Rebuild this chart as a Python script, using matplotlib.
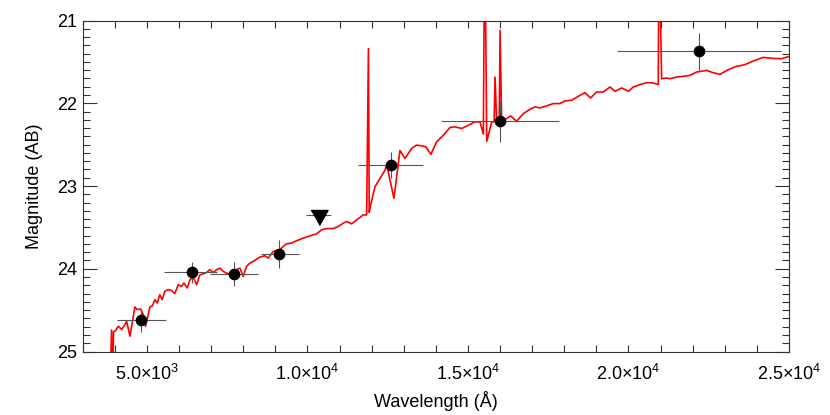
import matplotlib
matplotlib.use('Agg')
import matplotlib.pyplot as plt
from matplotlib.ticker import MultipleLocator, FixedLocator, FixedFormatter
import numpy as np

plt.rcParams['font.family'] = ['Liberation Sans', 'DejaVu Sans']
plt.rcParams['mathtext.fontset'] = 'custom'
plt.rcParams['mathtext.rm'] = 'Liberation Sans'
plt.rcParams['mathtext.it'] = 'Liberation Sans'

# model spectrum
spec_wave = [3850, 3900, 3930, 3960, 4005, 4110, 4213, 4316, 4368, 4472, 4575, 4627,
             4699, 4803, 4886, 4958, 5093, 5175, 5248, 5320, 5403, 5475, 5558, 5662,
             5765, 5869, 5975, 6080, 6152, 6256, 6340, 6443, 6547, 6650, 6755, 6858,
             6962, 7065, 7170, 7273, 7377, 7480, 7585, 7688, 7792, 7895, 8000, 8103,
             8207, 8310, 8415, 8518, 8675, 8778, 8934, 9141, 9245, 9350, 9505, 9660,
             9868, 10077, 10285, 10440, 10597, 10804, 10960, 11116, 11220, 11376, 11532, 11740,
             11845, 11900, 11925, 11975, 12105, 12262, 12418, 12470, 12695, 12882, 13038, 13245,
             13400, 13555, 13690, 13845, 14025, 14232, 14440, 14597, 14805, 15012, 15220, 15375,
             15480, 15510, 15540, 15585, 15740, 15815, 15843, 15895, 15975, 16000, 16050, 16205,
             16330, 16516, 16724, 16932, 17088, 17243, 17450, 17658, 17865, 18022, 18229, 18437,
             18644, 18820, 19008, 19216, 19424, 19580, 19787, 19995, 20150, 20357, 20565, 20772,
             20927, 20945, 20975, 21033, 21188, 21292, 21500, 21707, 21914, 22121, 22432, 22640,
             22847, 23106, 23366, 23624, 23884, 24196, 24507, 24766, 25005]
spec_mag = [25.4, 24.74, 25.4, 24.76, 24.755, 24.695, 24.735, 24.675, 24.635, 24.815, 24.575, 24.462,
            24.494, 24.486, 24.555, 24.695, 24.462, 24.446, 24.374, 24.414, 24.314, 24.374, 24.273, 24.253,
            24.261, 24.301, 24.193, 24.213, 24.173, 24.233, 24.133, 24.101, 24.193, 24.073, 24.061, 24.045,
            24.012, 24.045, 24.012, 23.992, 24.032, 24.053, 24.061, 24.032, 24.012, 23.992, 24.093, 23.972,
            23.932, 23.912, 23.884, 23.86, 23.843, 23.871, 23.791, 23.771, 23.731, 23.698, 23.690, 23.662,
            23.630, 23.602, 23.578, 23.530, 23.514, 23.514, 23.490, 23.449, 23.429, 23.457, 23.409, 23.349,
            23.349, 21.34, 23.32, 23.22, 23.008, 22.908, 22.807, 22.747, 23.148, 22.57, 22.667, 22.546,
            22.506, 22.514, 22.526, 22.618, 22.466, 22.386, 22.293, 22.285, 22.305, 22.265, 22.225, 22.225,
            22.372, 20.5, 20.5, 22.46, 22.225, 22.225, 21.683, 22.225, 22.225, 21.12, 22.217, 22.185,
            22.153, 22.217, 22.125, 22.073, 22.044, 22.056, 22.032, 22.004, 22.004, 21.972, 21.964, 21.916,
            21.872, 21.936, 21.864, 21.864, 21.803, 21.856, 21.815, 21.856, 21.803, 21.775, 21.751, 21.755,
            21.775, 20.5, 20.5, 21.703, 21.695, 21.703, 21.683, 21.675, 21.663, 21.623, 21.603, 21.631,
            21.651, 21.595, 21.554, 21.534, 21.49, 21.446, 21.458, 21.462, 21.434]

# photometry: detections
det_wave = [4820, 6414, 7704, 9125, 12595, 16000, 22199]
det_lo = [4059, 5533, 6966, 8555, 11586, 14150, 19650]
det_hi = [5586, 7174, 8470, 9738, 13611, 17850, 24753]
det_mag = [24.623, 24.044, 24.064, 23.823, 22.747, 22.217, 21.373]
det_err = [0.14, 0.13, 0.15, 0.17, 0.16, 0.25, 0.22]

# upper limit
lim_wave = [10352]
lim_lo = [9956]
lim_hi = [10735]
lim_mag = [23.35]

xtick_vals = [5000, 10000, 15000, 20000, 25000]
xtick_labels = [r'$5.0{\times}10^{3}$', r'$1.0{\times}10^{4}$', r'$1.5{\times}10^{4}$',
                r'$2.0{\times}10^{4}$', r'$2.5{\times}10^{4}$']
ytick_vals = [21, 22, 23, 24, 25]

fig = plt.figure(figsize=(8.3, 4.15), dpi=100)
ax = fig.add_axes([82.7 / 830, (415 - 351.5) / 415, (789 - 82.7) / 830, (351.5 - 20.5) / 415])

ax.plot(spec_wave, spec_mag, color='red', lw=1.2, zorder=2)

dw = np.array(det_wave)
ax.errorbar(det_wave, det_mag,
            xerr=[dw - np.array(det_lo), np.array(det_hi) - dw], yerr=det_err,
            fmt='o', color='black', ms=7.4, ecolor='#555555', elinewidth=0.8,
            capsize=0, zorder=3)

lw_ = np.array(lim_wave)
ax.errorbar(lim_wave, lim_mag, xerr=[lw_ - np.array(lim_lo), np.array(lim_hi) - lw_],
            fmt='none', ecolor='#555555', elinewidth=0.8, capsize=0, zorder=3)
tri = [(-8.5, 5), (8.5, 5), (0, -10)]
ax.plot(lim_wave, lim_mag, ls='none', marker=tri, ms=14.4, color='black', zorder=4)

ax.set_xlim(3000, 25000)
ax.set_ylim(25, 21)
ax.xaxis.set_major_locator(FixedLocator(xtick_vals))
ax.xaxis.set_major_formatter(FixedFormatter(xtick_labels))
ax.xaxis.set_minor_locator(MultipleLocator(1000))
ax.set_yticks(ytick_vals)
ax.yaxis.set_minor_locator(MultipleLocator(0.1))

ax.tick_params(which='both', direction='in', top=True, right=True, width=0.8, colors='#333333',
               labelcolor='black', labelsize=13)
ax.tick_params(axis='x', which='both', length=5, pad=9)
ax.tick_params(axis='y', which='major', length=10, pad=4)
ax.tick_params(axis='y', which='minor', length=5)
for s in ax.spines.values():
    s.set_linewidth(0.8)
    s.set_color('#333333')

ax.set_xlabel('Wavelength (Å)', fontsize=13, labelpad=5)
ax.set_ylabel('Magnitude (AB)', fontsize=13, labelpad=10)

fig.savefig('out.png', dpi=100)
